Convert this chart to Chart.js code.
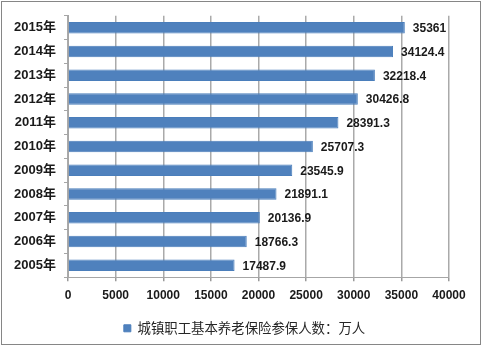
<!DOCTYPE html>
<html>
<head>
<meta charset="utf-8">
<script src="https://cdn.jsdelivr.net/npm/chart.js@4/dist/chart.umd.min.js"></script>
<style>
  html, body { margin: 0; padding: 0; background: #fff; }
  #wrap { position: relative; width: 483px; height: 349px; }
</style>
</head>
<body>
<div id="wrap"><canvas id="c" width="483" height="349"></canvas></div>
<script>
// Years, listed top to bottom
const years = ['2015年', '2014年', '2013年', '2012年', '2011年', '2010年',
               '2009年', '2008年', '2007年', '2006年', '2005年'];
// Urban employee basic pension insured persons (10,000 persons)
const insured = [35361, 34124.4, 32218.4, 30426.8, 28391.3, 25707.3,
                 23545.9, 21891.1, 20136.9, 18766.3, 17487.9];
const seriesName = '城镇职工基本养老保险参保人数：万人';
const axisMin = 0, axisMax = 40000, axisStep = 5000;

const LATIN = '"Liberation Sans", "Noto Sans CJK SC", sans-serif';
const CJK = '"Noto Sans CJK SC", "Liberation Sans", sans-serif';

// Outer frame around the whole chart
const framePlugin = {
  id: 'frame',
  beforeDraw(chart) {
    const ctx = chart.ctx;
    ctx.save();
    ctx.strokeStyle = '#868686';
    ctx.lineWidth = 1;
    ctx.strokeRect(1.5, 1.5, 479, 343);
    ctx.restore();
  }
};

// Centre the legend under the whole frame rather than under the padded area
const legendShift = {
  id: 'legendShift',
  afterLayout(chart) {
    const lg = chart.legend;
    if (lg) { lg.left += 20; lg.right += 20; }
  }
};

// Value text to the right of each bar
const valueLabels = {
  id: 'valueLabels',
  afterDatasetsDraw(chart) {
    const ctx = chart.ctx;
    const meta = chart.getDatasetMeta(0);
    ctx.save();
    ctx.font = 'bold 12px ' + LATIN;
    ctx.fillStyle = '#1a1a1a';
    ctx.textAlign = 'left';
    ctx.textBaseline = 'middle';
    meta.data.forEach((bar, i) => {
      ctx.fillText(String(insured[i]), bar.x + 8, bar.y + 1);
    });
    ctx.restore();
  }
};

new Chart(document.getElementById('c'), {
  type: 'bar',
  data: {
    labels: years,
    datasets: [{
      label: seriesName,
      data: insured,
      backgroundColor: '#4F81BD',
      borderColor: '#4A7EBB',
      borderWidth: 1,
      categoryPercentage: 1,
      barPercentage: 0.48
    }]
  },
  options: {
    indexAxis: 'y',
    responsive: false,
    animation: false,
    layout: { padding: { left: 0, right: 34, top: 15, bottom: 4 } },
    plugins: {
      legend: {
        position: 'bottom',
        labels: {
          boxWidth: 7,
          boxHeight: 7,
          padding: 12,
          color: '#262626',
          font: { family: CJK, size: 13.4 }
        }
      },
      tooltip: { enabled: false }
    },
    scales: {
      x: {
        type: 'linear',
        position: 'bottom',
        min: axisMin,
        max: axisMax,
        ticks: {
          stepSize: axisStep,
          color: '#1a1a1a',
          padding: 7,
          font: { family: LATIN, size: 12, weight: 'bold' },
          callback: (v) => String(v)
        },
        grid: {
          color: '#aaaaaa',
          lineWidth: 1.5,
          tickLength: 4,
          tickColor: '#999999'
        },
        border: { display: true, color: '#a6a6a6' }
      },
      y: {
        type: 'category',
        afterFit(scale) { scale.width = 68; },
        ticks: {
          color: '#1a1a1a',
          padding: 8,
          font: { family: LATIN, size: 13, weight: 'bold' }
        },
        grid: { drawOnChartArea: false, offset: true, tickLength: 4, color: '#a6a6a6' },
        border: { color: '#a6a6a6' }
      }
    }
  },
  plugins: [framePlugin, legendShift, valueLabels]
});
</script>
</body>
</html>
